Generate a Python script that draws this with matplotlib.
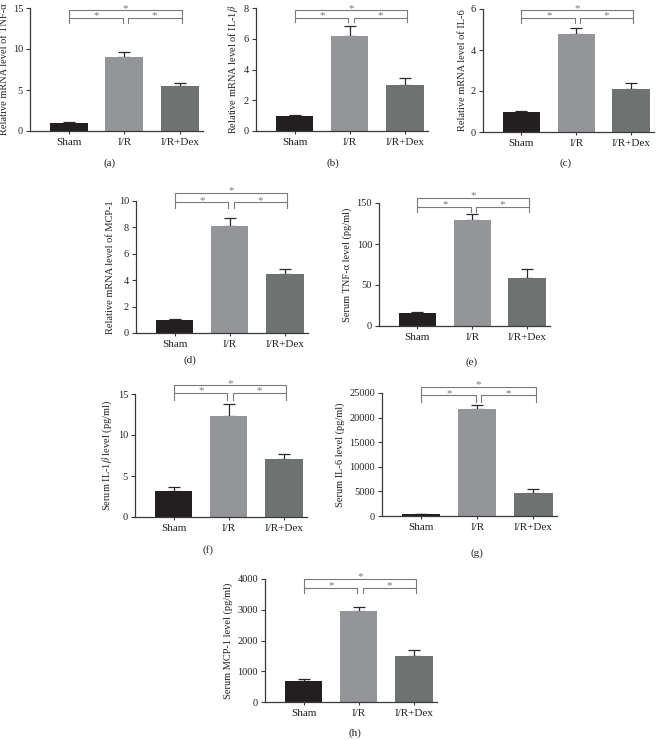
import matplotlib
matplotlib.use('Agg')
import matplotlib.pyplot as plt
import numpy as np

plt.rcParams['font.family'] = ['Liberation Serif', 'DejaVu Serif']
plt.rcParams['mathtext.fontset'] = 'stix'

groups = ['Sham', 'I/R', 'I/R+Dex']
bar_colors = ['#231f20', '#939598', '#6e7372']

panel_tags = ['(a)', '(b)', '(c)', '(d)', '(e)', '(f)', '(g)', '(h)']
ylabels = [
    'Relative mRNA level of TNF-α',
    r'Relative mRNA level of IL-1$\beta$',
    'Relative mRNA level of IL-6',
    'Relative mRNA level of MCP-1',
    'Serum TNF-α level (pg/ml)',
    r'Serum IL-1$\beta$ level (pg/ml)',
    'Serum IL-6 level (pg/ml)',
    'Serum MCP-1 level (pg/ml)',
]
means = [
    [1.0, 9.0, 5.45],
    [1.0, 6.2, 3.02],
    [1.0, 4.78, 2.12],
    [1.0, 8.1, 4.5],
    [15.5, 129, 59],
    [3.2, 12.3, 7.1],
    [350, 21650, 4580],
    [680, 2960, 1510],
]
errors = [
    [0.05, 0.65, 0.45],
    [0.03, 0.65, 0.4],
    [0.02, 0.28, 0.25],
    [0.03, 0.6, 0.32],
    [1.8, 8, 10.5],
    [0.5, 1.5, 0.6],
    [120, 1000, 950],
    [70, 130, 190],
]
yticks = [
    [0, 5, 10, 15],
    [0, 2, 4, 6, 8],
    [0, 2, 4, 6],
    [0, 2, 4, 6, 8, 10],
    [0, 50, 100, 150],
    [0, 5, 10, 15],
    [0, 5000, 10000, 15000, 20000, 25000],
    [0, 1000, 2000, 3000, 4000],
]

W, H = 669, 740
# axes boxes in pixels: left, top, right, bottom
boxes = [
    (30, 8, 203, 131),
    (256, 8, 428, 131),
    (483, 9, 654, 132),
    (136, 201, 308, 333),
    (379, 203, 550, 326),
    (135, 394, 307, 517),
    (382, 393, 557, 516),
    (265, 579, 437, 702),
]
tag_pos = [(110, 163), (333, 163), (566, 163), (190, 360), (472, 362),
           (208, 550), (477, 553), (355, 733)]
# bracket levels in axes fraction: outer line, inner line, inner leg bottom
brackets = [
    (0.98, 0.92, 0.88),
    (0.98, 0.92, 0.885),
    (0.99, 0.93, 0.89),
    (1.06, 0.99, 0.95),
    (1.04, 0.97, 0.93),
    (1.07, 1.01, 0.95),
    (1.05, 0.98, 0.93),
    (1.00, 0.93, 0.89),
]

fig = plt.figure(figsize=(W / 100, H / 100), dpi=100)
axis_col = '#3a3a3a'
br_col = '#7a7a7a'
x = np.arange(3)

for i in range(8):
    l, t, r, b = boxes[i]
    ax = fig.add_axes([l / W, 1 - b / H, (r - l) / W, (b - t) / H])
    ax.bar(x, means[i], width=0.68, color=bar_colors, zorder=2)
    ax.errorbar(x, means[i], yerr=[np.zeros(3), errors[i]], fmt='none',
                ecolor='#2a2a2a', elinewidth=0.9, capsize=4.5, capthick=0.9, zorder=1)
    ax.set_xlim(-0.7, 2.42)
    ax.set_ylim(0, yticks[i][-1])
    ax.set_yticks(yticks[i])
    ax.set_xticks(x)
    ax.set_xticklabels(groups)
    for s in ['top', 'right']:
        ax.spines[s].set_visible(False)
    for s in ['left', 'bottom']:
        ax.spines[s].set_color(axis_col)
        ax.spines[s].set_linewidth(0.9)
    ax.tick_params(axis='y', length=3, width=0.8, color=axis_col, labelsize=7.5, pad=2,
                   labelcolor='#222222')
    ax.tick_params(axis='x', length=2.5, width=0.8, color=axis_col, labelsize=8, pad=2.5,
                   labelcolor='#222222')
    ax.set_ylabel(ylabels[i], fontsize=7.5, labelpad=3, color='#222222')

    tr = ax.get_xaxis_transform()
    yo, yi, yl = brackets[i]
    kw = dict(color=br_col, lw=0.8, transform=tr, clip_on=False)
    ax.plot([0, 0, 2.04, 2.04], [yi, yo, yo, yi], **kw)
    ax.plot([0, 0, 0.97, 0.97], [yl, yi, yi, yl], **kw)
    ax.plot([1.07, 1.07, 2.04, 2.04], [yl, yi, yi, yl], **kw)
    for xs, ys in [(1.02, yo), (0.5, yi), (1.55, yi)]:
        ax.annotate('*', (xs, ys), xycoords=tr, xytext=(0, -1.8), textcoords='offset points',
                    ha='center', va='bottom', fontsize=8, color=br_col, annotation_clip=False)

    tx, ty = tag_pos[i]
    fig.text(tx / W, 1 - ty / H, panel_tags[i], ha='center', va='center', fontsize=8,
             color='#222222')

fig.savefig('out.png', dpi=100)
